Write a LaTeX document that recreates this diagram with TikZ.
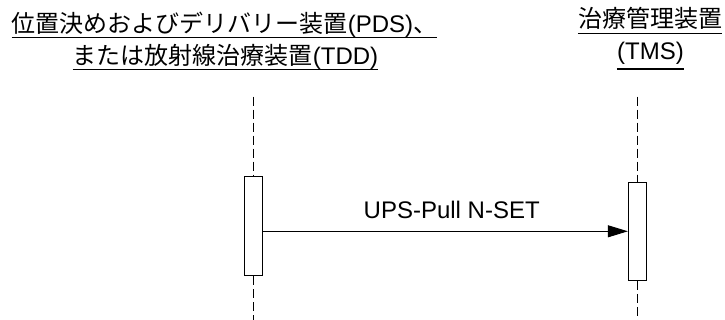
\documentclass[tikz,border=0pt]{standalone}
\usepackage{fontspec}
\setmainfont{Liberation Sans}
\newfontfamily\jpfont{Noto Sans CJK JP}
\usepackage{tikz}
\usetikzlibrary{positioning, calc, arrows.meta}
\tikzset{hdr/.style = {anchor=base,inner sep=0pt,font=\fontsize{24}{28}\selectfont},
         uline/.style = {line width=1.5pt},
         lifeline/.style = {line width=1.3pt,dash pattern=on 9pt off 4pt},
         act/.style = {draw,fill=white,line width=0.9pt,minimum width=18.4pt,inner sep=0pt},
         msg/.style = {line width=0.9pt,-{Triangle[length=20pt,width=12pt]}}}

\begin{document}
\begin{tikzpicture}[x=1pt,y=-1pt]
                    \useasboundingbox (0,0) rectangle (725,320);
                    \begin{scope}
                        \node [hdr] (pdsA) at (224.5,32.7) {{\jpfont 位置決めおよびデリバリー装置}(PDS){\jpfont 、}};
                        \node [hdr] (pdsB) at (225.5,65)   {{\jpfont または放射線治療装置}(TDD)};
                        \draw [uline] ([yshift=-4.6pt]pdsA.base west) -- ([yshift=-4.6pt]pdsA.base east);
                        \draw [uline] ([yshift=-4.3pt]pdsB.base west) -- ([yshift=-4.3pt]pdsB.base east);

                        \node [act,minimum height=99pt] (pdsact) at (253.5,226.2) {};
                        \coordinate (pdstop) at (253.5,96.7);
                        \coordinate (pdsbot) at (253.5,320);
                        \draw [lifeline] (pdstop) -- (pdsact.north);
                        \draw [lifeline] (pdsact.south) -- (pdsbot);
                    \end{scope}
                    \begin{scope}
                        \node [hdr] (tmsA) at (650,28)   {\jpfont 治療管理装置};
                        \node [hdr] (tmsB) at (650.5,59.3) {(TMS)};
                        \draw [uline] ([yshift=-5.3pt]tmsA.base west) -- ([yshift=-5.3pt]tmsA.base east);
                        \draw [uline] ([yshift=-9.5pt]tmsB.base west) -- ([yshift=-9.5pt]tmsB.base east);

                        \node [act,minimum height=98pt] (tmsact) at (637.5,231.3) {};
                        \coordinate (tmstop) at (637.5,96.7);
                        \coordinate (tmsbot) at (637.5,320);
                        \draw [lifeline] (tmstop) -- (tmsact.north);
                        \draw [lifeline] (tmsact.south) -- (tmsbot);
                    \end{scope}

                    \draw [msg] (pdsact.east |- tmsact.west) -- (tmsact.west);
                    \node [hdr] (nset) at (451.7,219) {UPS-Pull N-SET};
                \end{tikzpicture}
\end{document}
